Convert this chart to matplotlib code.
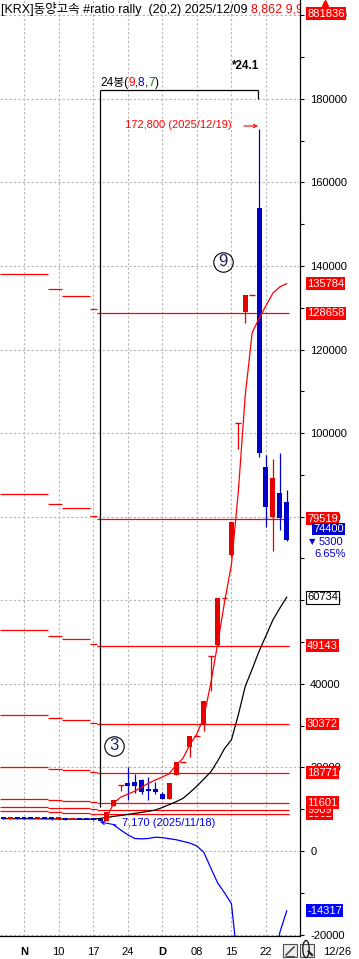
import numpy as np
import matplotlib
matplotlib.use("Agg")
import matplotlib.pyplot as plt
from matplotlib import font_manager, transforms
from matplotlib.patches import Rectangle, Circle

# ---------------- data ----------------
trading_dates = ["10/29", "10/30", "10/31", "11/03", "11/04", "11/05", "11/06", "11/07",
                 "11/10", "11/11", "11/12", "11/13", "11/14", "11/17", "11/18", "11/19",
                 "11/20", "11/21", "11/24", "11/25", "11/26", "11/27", "11/28", "12/01",
                 "12/02", "12/03", "12/04", "12/05", "12/08", "12/09", "12/10", "12/11",
                 "12/12", "12/15", "12/16", "12/17", "12/18", "12/19", "12/22", "12/23",
                 "12/24", "12/26"]
opens = [7790, 7720, 7760, 7720, 7710, 7700, 7720, 7700, 7560, 7600, 7450, 7480, 7430, 7420,
         7300, 7250, 10800, 15800, 16200, 16400, 17100, 14950, 14950, 13750, 12550, 18300,
         21210, 24800, 27570, 30100, 46590, 49400, 60560, 70900, 102300, 128900, 133000,
         153900, 91900, 80000, 85600, 83400]
highs = [7850, 7800, 7780, 7760, 7740, 7750, 7740, 7720, 7650, 7610, 7520, 7500, 7470, 7440,
         7350, 9360, 12160, 15800, 20000, 18500, 17200, 17800, 16400, 14000, 16320, 21210,
         21210, 27570, 27570, 35840, 46590, 60560, 60560, 78700, 102300, 133000, 133000,
         172800, 94800, 93800, 95300, 86300]
lows = [7700, 7700, 7710, 7700, 7700, 7700, 7700, 7490, 7520, 7405, 7420, 7410, 7410, 7225,
        7170, 7200, 10700, 14300, 12300, 13800, 13700, 12100, 13750, 12500, 12400, 18100,
        21210, 22500, 27570, 28700, 38300, 49100, 60560, 70400, 96100, 126300, 133000,
        94300, 77600, 71800, 76800, 74200]
closes = [7720, 7760, 7720, 7710, 7700, 7720, 7700, 7560, 7600, 7450, 7480, 7430, 7420, 7300,
          7200, 9360, 12160, 15800, 15450, 15450, 14000, 14250, 14000, 12550, 16320, 21210,
          21210, 27570, 27570, 35840, 46590, 60560, 60560, 78700, 102300, 133000, 133000,
          95200, 82300, 89200, 79700, 74400]

red_line_start = "11/19"
red_line = [8200, 11500, 12900, 13600, 14300, 15300, 16200, 17000, 17700, 18500, 20600,
            22200, 25500, 28000, 32000, 40000, 49500, 59500, 68500, 86000, 109000, 124000,
            127500, 130500, 133500, 135000, 135784]
black_line = [7750, 7740, 7730, 7720, 7710, 7700, 7690, 7680, 7660, 7640, 7620, 7600, 7590,
              7620, 7800, 8000, 8300, 8500, 8750, 9000, 9250, 9500, 9800, 10400, 11100,
              11800, 12600, 14000, 15500, 17200, 18900, 21500, 24500, 26600, 32600, 39400,
              43500, 47800, 51500, 55300, 58100, 60734]
blue_line_start = "11/20"
blue_line = [6200, 5000, 3900, 3000, 2900, 3000, 3300, 3200, 2950, 2700, 2300, 1900, 1200,
             -300, -4000, -7600, -10000, -12600, -28000, -40000, -50000, -52000, -45000,
             -30000, -19500, -14317]

fib_levels = [8862, 9909, 11601, 18771, 30372, 49143, 79519, 128658]
off_chart_level = 881836
rally_low, rally_low_date = 7170, "2025/11/18"
rally_high, rally_high_date = 172800, "2025/12/19"
last_change, last_change_pct = 5300, 6.65
bar_count, bar_split = 24, [9, 8, 7]
ratio_text = "*24.1"
title_black = "[KRX]동양고속 #ratio rally  (20,2) 2025/12/09 "
title_red = "8,862 9,909 11,601"
week_labels = ["N", "10", "17", "24", "D", "08", "15", "22"]
week_dates = ["11/03", "11/10", "11/17", "11/24", "12/01", "12/08", "12/15", "12/22"]
y_ticks = list(range(-20000, 200001, 20000))
last_date_label = "12/26"

# ---------------- fonts ----------------
names = {f.name for f in font_manager.fontManager.ttflist}
if "Liberation Sans Narrow" in names:
    NARROW, FS = "Liberation Sans Narrow", 9.4
else:
    NARROW, FS = "Liberation Sans", 8.0
plt.rcParams["font.family"] = [NARROW, "DejaVu Sans"]

RED = "#ff0000"
CRED = "#e60000"
CBLUE = "#0000cc"
BLUE = "#0000ff"

W, H = 359, 959
fig = plt.figure(figsize=(W / 100, H / 100), dpi=100)
ax = fig.add_axes([0, 23 / H, 300 / W, 936 / H])
X0, X1 = -0.471, 42.92
Y0, Y1 = -20340, 203640


def xv(px):
    return X0 + px / 300 * (X1 - X0)


def yv(py):
    return Y1 - py / 936 * (Y1 - Y0)


def idx(d):
    return trading_dates.index(d)


# ticks first (set_yticks may widen the view), limits afterwards
ax.yaxis.tick_right()
ax.set_yticks(y_ticks)
ax.set_yticklabels([str(v) for v in y_ticks], fontsize=FS)
ax.set_yticks([v + 10000 for v in y_ticks], minor=True)
ax.tick_params(axis="y", which="both", direction="out", length=3, width=0.8, pad=4.3)
ax.set_xticks([])
ax.set_xlim(X0, X1)
ax.set_ylim(Y0, Y1)

# grid
for d in week_dates:
    ax.axvline(idx(d), color="#b4b4b4", lw=0.8, ls=(0, (2, 2)), zorder=0)
for v in y_ticks:
    ax.axhline(v, color="#b4b4b4", lw=0.8, ls=(0, (2, 2)), zorder=0)

# fibonacci step lines from running low
run_low = np.minimum.accumulate(np.array(lows, dtype=float))
chg = [0] + [i for i in range(1, len(lows)) if run_low[i] != run_low[i - 1]]
starts = [X0] + [c - 0.5 for c in chg[1:]]
ends = starts[1:] + [len(closes) - 1 + 0.3]
for L in fib_levels:
    for s, e, c in zip(starts, ends, chg):
        ax.hlines(L * run_low[c] / run_low[-1], s, e, color=RED, lw=0.9, zorder=2)

# lines
n = len(closes)
ax.plot(range(n), black_line, color="black", lw=0.9, zorder=3)
ax.plot(range(idx(blue_line_start), n), blue_line, color=BLUE, lw=0.9, zorder=3)

# candles
px_val = (Y1 - Y0) / 936
for i in range(n):
    o, h, l, c = opens[i], highs[i], lows[i], closes[i]
    col = CRED if c >= o else CBLUE
    ax.vlines(i, l, h, color=col, lw=0.9, zorder=4)
    if abs(c - o) < 1:
        ax.hlines(o, i - 0.42, i + 0.42, color=col, lw=1.0, zorder=4)
    else:
        hh = max(abs(c - o), 2 * px_val)
        ax.add_patch(Rectangle((i - 0.36, min(o, c)), 0.72, hh,
                               fc=col, ec=col, lw=0, zorder=4))

ax.plot(range(idx(red_line_start), n), red_line, color=RED, lw=0.9, zorder=5)

# axes styling
for s in ["top", "left"]:
    ax.spines[s].set_visible(False)
ax.spines["right"].set_linewidth(0.9)
ax.spines["bottom"].set_linewidth(0.9)

# x labels
trx = transforms.blended_transform_factory(ax.transData, ax.transAxes)
for lab, d in zip(week_labels, week_dates):
    ax.text(idx(d), -16 / 936, lab, transform=trx, ha="center", va="center", fontsize=FS,
            fontweight="bold" if lab.isalpha() else "normal", clip_on=False)
ax.text(337.5 / 300, -16 / 936, last_date_label, transform=ax.transAxes, ha="center",
        va="center", fontsize=FS, clip_on=False)

# right tags
tr = transforms.blended_transform_factory(ax.transAxes, ax.transData)


def tag(v, s, fc, tc="white", ec="none", xpx=307, z=10):
    ax.text(xpx / 300, v, s, transform=tr, ha="left", va="center", fontsize=FS, color=tc,
            bbox=dict(boxstyle="square,pad=0.12", fc=fc, ec=ec, lw=0.8), clip_on=False,
            zorder=z)


tag(yv(13.5), str(off_chart_level), RED)
ax.plot([325 / 300], [yv(3)], transform=tr, marker="^", ms=4.5, color=RED, clip_on=False)
tag(red_line[-1], str(red_line[-1]), RED)
for k, L in enumerate(fib_levels):
    tag(L, str(L), RED, z=10 + k)
tag(black_line[-1], str(black_line[-1]), "white", tc="black", ec="black")
tag(blue_line[-1], str(blue_line[-1]), BLUE)
tag(yv(529), str(closes[-1]), CBLUE, xpx=313, z=20)
ax.text(312 / 300, yv(542), "▼", transform=tr, ha="center", va="center", fontsize=FS * 0.75,
        color=CBLUE, family="DejaVu Sans", clip_on=False)
ax.text(319 / 300, yv(542), str(last_change), transform=tr, ha="left", va="center",
        fontsize=FS, color=CBLUE, clip_on=False)
ax.text(346 / 300, yv(554), f"{last_change_pct:.2f}%", transform=tr, ha="right",
        va="center", fontsize=FS, color=CBLUE, clip_on=False)
ax.set_ylim(Y0, Y1)

# title and multi-colour texts
renderer = fig.canvas.get_renderer()


def chain(xa, ya, pieces, **kw):
    x = xa
    for txt, col in pieces:
        t = ax.text(x, ya, txt, transform=ax.transAxes, color=col, va="baseline", ha="left",
                    **kw)
        bb = t.get_window_extent(renderer=renderer)
        x = ax.transAxes.inverted().transform((bb.x1, bb.y0))[0]


chain(0.002, 1 - 12.5 / 936, [(title_black, "black"), (title_red, RED)],
      fontsize=FS * 1.13, family=[NARROW, "Noto Sans CJK KR"], clip_on=True)
chain(100 / 300, 1 - 86 / 936,
      [(f"{bar_count}봉(", "black"), (str(bar_split[0]), RED), (",", "black"),
       (str(bar_split[1]), CBLUE), (",", "black"), (str(bar_split[2]), "#008000"),
       (")", "black")],
      fontsize=FS * 1.07, family=[NARROW, "Noto Sans CJK KR"], clip_on=False)

ax.text(xv(259), yv(66), ratio_text, ha="right", va="center", fontsize=FS * 1.05,
        fontweight="bold", zorder=8)

# rally box
i_lo, i_hi = idx("11/18"), idx("12/19")
ax.vlines(i_lo, yv(807), yv(90), color="black", lw=0.9, zorder=6)
ax.hlines(yv(90), i_lo, i_hi - 0.15, color="black", lw=0.9, zorder=6)
ax.vlines(i_hi - 0.15, yv(99), yv(90), color="black", lw=0.9, zorder=6)

# high / low annotations
ax.text(xv(232), yv(125), f"{rally_high:,} ({rally_high_date})", ha="right", va="center",
        fontsize=FS, color=RED, zorder=8)
ax.annotate("", xy=(xv(258), yv(126)), xytext=(xv(244), yv(126)),
            arrowprops=dict(arrowstyle="->", color=RED, lw=0.8, shrinkA=0, shrinkB=0,
                            mutation_scale=6), zorder=8)
ax.text(xv(122), yv(823), f"{rally_low:,} ({rally_low_date})", ha="left", va="center",
        fontsize=FS, color=BLUE, zorder=8)
ax.annotate("", xy=(xv(100), yv(822)), xytext=(xv(116), yv(825)),
            arrowprops=dict(arrowstyle="->", color=BLUE, lw=0.8, shrinkA=0, shrinkB=0,
                            mutation_scale=6), zorder=8)

# circled wave counts
for (cx, cy, s) in [(223, 262, "9"), (114, 745.5, "3")]:
    ax.plot([xv(cx)], [yv(cy)], marker="o", ms=14, mfc="none", mec="black", mew=0.8,
            zorder=8)
    ax.text(xv(cx), yv(cy), s, ha="center", va="center", fontsize=12, color="#202060",
            zorder=9)
ax.set_xlim(X0, X1)
ax.set_ylim(Y0, Y1)


# small toolbar icons
def fx(px):
    return px / W


def fy(py):
    return (H - py) / H


for x0 in (283, 300):
    fig.add_artist(Rectangle((fx(x0), fy(957)), 14 / W, 13 / H, transform=fig.transFigure,
                             fc="#ececec", ec="#505050", lw=0.8))
fig.add_artist(plt.Line2D([fx(286), fx(294)], [fy(955), fy(947)], transform=fig.transFigure,
                          color="#303030", lw=1.0))
fig.add_artist(plt.Line2D([fx(286), fx(294)], [fy(955.5), fy(955.5)],
                          transform=fig.transFigure, color="#303030", lw=0.6))
fig.add_artist(Circle((fx(306), fy(949)), 3.2 / W, transform=fig.transFigure, fc="none",
                      ec="#202020", lw=1.0))
fig.add_artist(plt.Line2D([fx(308.5), fx(312)], [fy(951.5), fy(955)],
                          transform=fig.transFigure, color="#202020", lw=1.6))

fig.savefig("out.png", dpi=100)
